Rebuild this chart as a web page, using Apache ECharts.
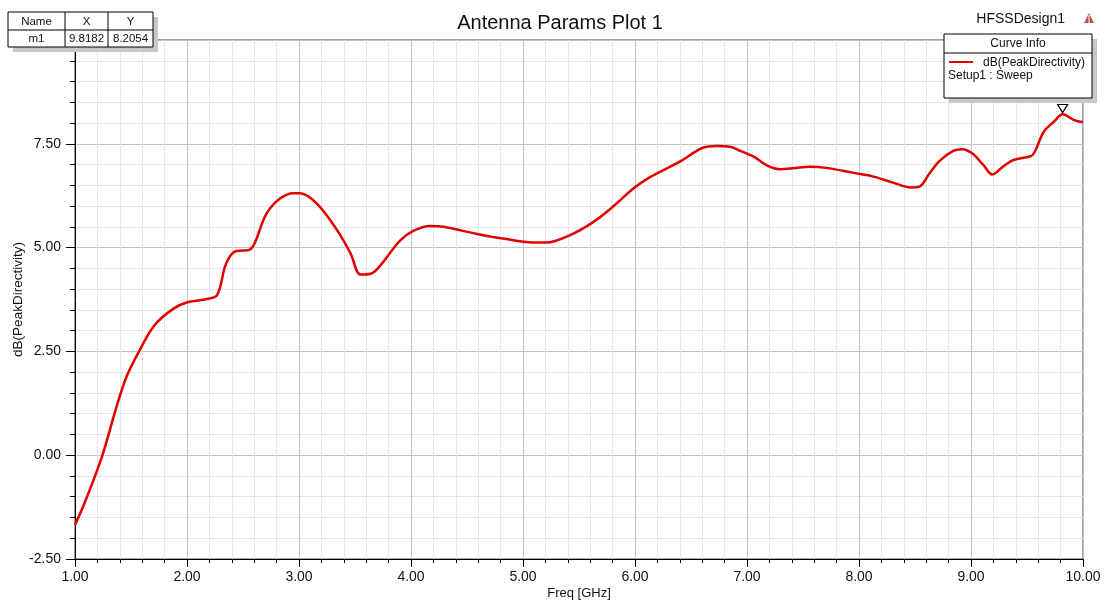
<!DOCTYPE html>
<html>
<head>
<meta charset="utf-8">
<script src="https://cdn.jsdelivr.net/npm/echarts@6/dist/echarts.min.js"></script>
<style>
html,body{margin:0;padding:0;background:#fff;}
#chart{width:1105px;height:601px;}
</style>
</head>
<body>
<div id="chart"></div>
<script>
// ---- data ----
const freqGHz = [1.00,1.09,1.24,1.37,1.46,1.57,1.71,1.88,2.01,2.18,2.27,2.35,2.44,2.55,2.71,2.83,2.95,3.01,3.16,3.34,3.46,3.55,3.64,3.72,3.90,4.02,4.17,4.29,4.59,4.82,5.12,5.21,5.42,5.63,5.81,5.98,6.13,6.40,6.61,6.73,6.85,6.94,7.06,7.19,7.29,7.41,7.56,7.71,7.95,8.13,8.31,8.46,8.54,8.63,8.72,8.84,8.92,9.01,9.11,9.19,9.29,9.38,9.54,9.57,9.65,9.74,9.82,9.92,10.00];
const peakDirectivityDb = [-1.68,-1.12,-0.04,1.16,1.89,2.49,3.13,3.53,3.69,3.76,3.86,4.62,4.92,4.94,5.82,6.18,6.31,6.31,6.06,5.42,4.86,4.35,4.37,4.55,5.16,5.40,5.52,5.50,5.33,5.22,5.12,5.12,5.30,5.62,6.00,6.41,6.69,7.07,7.41,7.45,7.43,7.33,7.19,6.96,6.89,6.91,6.95,6.92,6.80,6.71,6.56,6.45,6.47,6.79,7.09,7.33,7.37,7.27,6.99,6.76,6.96,7.11,7.21,7.31,7.79,8.03,8.21,8.07,8.02];
const markerName = 'm1';
const markerX = 9.8182;
const markerY = 8.2054;
const tableHeaders = ['Name','X','Y'];
const seriesName = 'dB(PeakDirectivity)';
const setupName = 'Setup1 : Sweep';
const titleText = 'Antenna Params Plot 1';
const designName = 'HFSSDesign1';
const xAxisName = 'Freq [GHz]';
const yAxisName = 'dB(PeakDirectivity)';

const FONT = '"Liberation Sans", Arial, sans-serif';
const RED = '#e00000';

const chart = echarts.init(document.getElementById('chart'), null, {renderer:'canvas'});
const lineData = freqGHz.map((f,i)=>[f, peakDirectivityDb[i]]);

function txt(x,y,t,size){
  return {type:'text', x:x, y:y, z:101, style:{text:t, font:(size||11.5)+'px '+FONT, fill:'#111', textAlign:'center', textVerticalAlign:'middle'}};
}

const option = {
  animation:false,
  backgroundColor:'#ffffff',
  grid:{left:75, right:22, top:40, bottom:42, containLabel:false, outerBoundsMode:'none', show:true, borderColor:'#444', borderWidth:1, backgroundColor:'transparent'},
  title:{text:titleText, left:555, top:8, textAlign:'center', textStyle:{fontFamily:FONT, fontSize:20, fontWeight:'normal', color:'#111'}},
  xAxis:{
    type:'value', min:1, max:10, interval:1,
    name:xAxisName, nameLocation:'middle', nameGap:28, nameMoveOverlap:false,
    nameTextStyle:{fontFamily:FONT, fontSize:13, color:'#111'},
    axisLine:{show:true, onZero:false, lineStyle:{color:'#000', width:1}},
    axisTick:{show:true, length:8, lineStyle:{color:'#000'}},
    minorTick:{show:true, splitNumber:5, length:4, lineStyle:{color:'#000'}},
    axisLabel:{fontFamily:FONT, fontSize:14, color:'#111', margin:11, formatter:v=>v.toFixed(2)},
    splitLine:{show:true, lineStyle:{color:'#c4c4c4', width:1}},
    minorSplitLine:{show:true, lineStyle:{color:'#e6e6e6', width:1}}
  },
  yAxis:{
    type:'value', min:-2.5, max:10, interval:2.5,
    name:yAxisName, nameLocation:'middle', nameGap:50, nameRotate:90, nameMoveOverlap:false,
    nameTextStyle:{fontFamily:FONT, fontSize:13.5, color:'#111'},
    axisLine:{show:true, onZero:false, lineStyle:{color:'#000', width:1}},
    axisTick:{show:true, length:9, lineStyle:{color:'#000'}},
    minorTick:{show:true, splitNumber:5, length:5, lineStyle:{color:'#000'}},
    axisLabel:{fontFamily:FONT, fontSize:14, color:'#111', margin:14, formatter:v=>v.toFixed(2)},
    splitLine:{show:true, lineStyle:{color:'#c4c4c4', width:1}},
    minorSplitLine:{show:true, lineStyle:{color:'#e6e6e6', width:1}}
  },
  series:[{
    type:'line', name:seriesName, data:lineData,
    showSymbol:false, smooth:0.35,
    lineStyle:{color:RED, width:2.5},
    z:5,
    markPoint:{
      symbol:'triangle', symbolRotate:180, symbolSize:[10,8], symbolOffset:[0,-6],
      itemStyle:{color:'#fff', borderColor:'#000', borderWidth:1.2},
      label:{show:true, position:'top', distance:1, formatter:markerName, fontFamily:FONT, fontSize:10, color:'#111'},
      data:[{coord:[markerX, markerY], value:markerY}]
    }
  }],
  graphic:[
    // marker table
    {type:'rect', z:100, shape:{x:13,y:17,width:145,height:35}, style:{fill:'#c8c8c8'}},
    {type:'rect', z:100, shape:{x:8,y:12,width:145,height:35}, style:{fill:'#fff', stroke:'#000', lineWidth:1}},
    {type:'line', z:101, shape:{x1:8,y1:30,x2:153,y2:30}, style:{stroke:'#000', lineWidth:1}},
    {type:'line', z:101, shape:{x1:65,y1:12,x2:65,y2:47}, style:{stroke:'#000', lineWidth:1}},
    {type:'line', z:101, shape:{x1:108,y1:12,x2:108,y2:47}, style:{stroke:'#000', lineWidth:1}},
    txt(36.5,21.5,tableHeaders[0]), txt(86.5,21.5,tableHeaders[1]), txt(130.5,21.5,tableHeaders[2]),
    txt(36.5,39,markerName), txt(86.5,39,markerX.toFixed(4)), txt(130.5,39,markerY.toFixed(4)),
    // design name + logo
    {type:'text', z:101, x:1065, y:19, style:{text:designName, font:'14px '+FONT, fill:'#111', textAlign:'right', textVerticalAlign:'middle'}},
    {type:'polygon', z:101, shape:{points:[[1089,13],[1084,23],[1094,23]]}, style:{fill:'#c0504d'}},
    {type:'line', z:102, shape:{x1:1089,y1:15,x2:1089,y2:23}, style:{stroke:'#fff', lineWidth:1}},
    // curve info legend
    {type:'rect', z:100, shape:{x:949,y:39,width:148,height:64}, style:{fill:'#c8c8c8'}},
    {type:'rect', z:100, shape:{x:944,y:34,width:148,height:64}, style:{fill:'#fff', stroke:'#000', lineWidth:1}},
    {type:'line', z:101, shape:{x1:944,y1:53,x2:1092,y2:53}, style:{stroke:'#000', lineWidth:1}},
    txt(1018,44,'Curve Info',12),
    {type:'line', z:101, shape:{x1:949,y1:62,x2:973,y2:62}, style:{stroke:RED, lineWidth:2}},
    {type:'text', z:101, x:983, y:62.5, style:{text:seriesName, font:'12px '+FONT, fill:'#111', textAlign:'left', textVerticalAlign:'middle'}},
    {type:'text', z:101, x:948, y:76, style:{text:setupName, font:'12px '+FONT, fill:'#111', textAlign:'left', textVerticalAlign:'middle'}}
  ]
};
chart.setOption(option);
</script>
</body>
</html>
